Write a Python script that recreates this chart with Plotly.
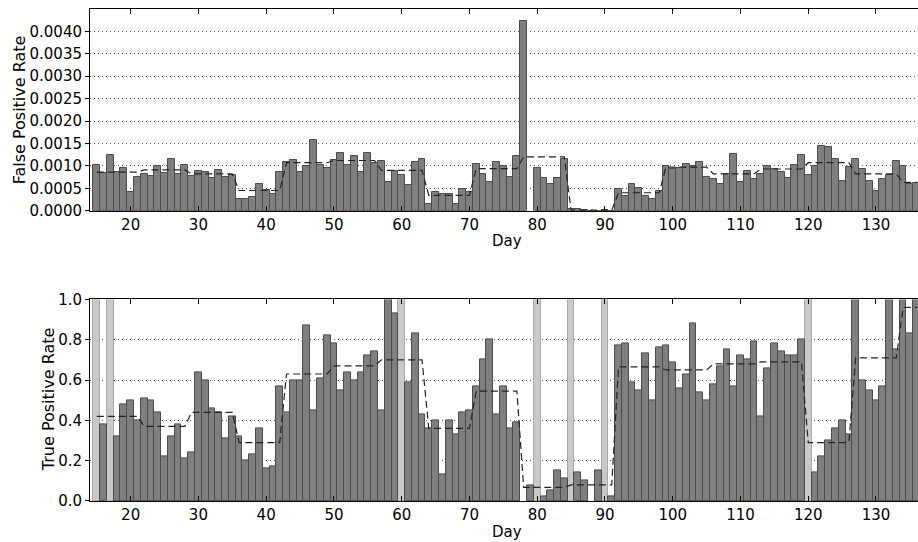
import plotly.graph_objects as go

# ---------------- data ----------------
days = list(range(15, 137))

# False positive rate, in units of 1e-4 (None = no bar)
fpr_e4 = [
    10.2, 8.5, 12.4, 8.7, 9.6, 4.2, 7.5,          # 15-21
    8.1, 7.8, 9.9, 8.5, 11.6, 8.1, 10.2,          # 22-28
    7.8, 8.9, 8.6, 7.3, 9.1, 7.5, 8.0,            # 29-35
    2.6, 2.6, 3.1, 6.0, 4.6, 3.7, 8.6,            # 36-42
    10.8, 11.3, 8.6, 9.9, 15.7, 10.3, 9.6,        # 43-49
    11.3, 12.8, 10.3, 12.2, 8.6, 12.8, 10.6,      # 50-56
    11.0, 6.3, 8.8, 8.0, 5.7, 10.8, 11.5,         # 57-63
    1.5, 4.1, 3.7, 3.7, 1.6, 4.8, 4.1,            # 64-70
    10.5, 8.2, 6.3, 10.9, 9.9, 7.5, 12.2,         # 71-77
    42.4, None, 9.5, 7.2, 6.0, 7.2, 11.5,         # 78-84
    0.4, 0.4, 0.1, 0.0, 0.0, 0.05, 0.0,           # 85-91
    4.9, 3.3, 6.0, 5.0, 3.2, 2.6, 4.3,            # 92-98
    9.9, 9.3, 9.5, 10.4, 9.9, 10.8, 7.6,          # 99-105
    7.1, 6.0, 8.1, 12.6, 6.5, 8.8, 7.0,           # 106-112
    8.2, 9.9, 9.4, 8.7, 7.2, 10.1, 12.4,          # 113-119
    8.0, 9.9, 14.4, 14.3, 11.5, 6.6, 9.8,         # 120-126
    11.5, 9.3, 6.6, 4.3, 7.1, 8.0, 11.0,          # 127-133
    10.0, 6.0, 6.1,                               # 134-136
]

# True positive rate (None = no bar)
tpr = [
    None, 0.38, None, 0.32, 0.48, 0.50, 0.40,     # 15-21
    0.51, 0.50, 0.44, 0.22, 0.32, 0.38, 0.21,     # 22-28
    0.24, 0.64, 0.60, 0.46, 0.44, 0.31, 0.42,     # 29-35
    0.32, 0.20, 0.23, 0.36, 0.16, 0.17, 0.57,     # 36-42
    0.44, 0.60, 0.60, 0.87, 0.45, 0.61, 0.82,     # 43-49
    0.78, 0.55, 0.64, 0.60, 0.64, 0.72, 0.74,     # 50-56
    0.45, 1.00, 0.93, None, 0.59, 0.83, 0.43,     # 57-63
    0.36, 0.40, 0.13, 0.40, 0.33, 0.44, 0.45,     # 64-70
    0.57, 0.70, 0.80, 0.43, 0.57, 0.36, 0.39,     # 71-77
    None, 0.076, None, 0.025, 0.055, 0.15, 0.11,  # 78-84
    None, 0.14, 0.10, None, 0.15, None, 0.023,    # 85-91
    0.77, 0.78, 0.59, 0.55, 0.73, 0.50, 0.76,     # 92-98
    0.77, 0.69, 0.56, 0.63, 0.88, 0.54, 0.50,     # 99-105
    0.58, 0.67, 0.75, 0.57, 0.72, 0.70, 0.79,     # 106-112
    0.42, 0.66, 0.78, 0.74, 0.72, 0.72, 0.80,     # 113-119
    None, 0.14, 0.22, 0.30, 0.36, 0.40, 0.33,     # 120-126
    1.00, 0.60, 0.55, 0.50, 0.57, 1.00, 0.75,     # 127-133
    1.00, 0.83, 1.00,                             # 134-136
]

# days without positives (drawn as light full-height bars)
no_positive_days = [15, 17, 60, 80, 85, 90, 120]

# weekly averages (dashed lines)
week_starts = [15, 22, 29, 36, 43, 50, 57, 64, 71, 78, 85, 92, 99, 106, 113, 120, 127, 134]
fpr_week_e4 = [8.6, 9.1, 8.2, 4.5, 10.7, 11.2, 9.0, 3.4, 9.4, 12.0, 0.1, 4.0, 9.7, 8.2, 9.3, 10.7, 8.2, 6.3]
tpr_week = [0.42, 0.37, 0.44, 0.29, 0.63, 0.67, 0.70, 0.36, 0.545, 0.068, 0.08, 0.665, 0.65, 0.68, 0.69, 0.29, 0.71, 0.96]

fpr_ticks = [0.0, 0.0005, 0.0010, 0.0015, 0.0020, 0.0025, 0.0030, 0.0035, 0.0040]
tpr_ticks = [0.0, 0.2, 0.4, 0.6, 0.8, 1.0]
day_ticks = [20, 30, 40, 50, 60, 70, 80, 90, 100, 110, 120, 130]

# ---------------- derived series ----------------
fpr = [None if v is None else v * 1e-4 for v in fpr_e4]


def week_level(levels, d):
    idx = 0
    for i, s in enumerate(week_starts):
        if d >= s:
            idx = i
    return levels[idx]


fpr_line = [week_level(fpr_week_e4, d) * 1e-4 for d in days]
tpr_line = [week_level(tpr_week, d) for d in days]

# ---------------- figure ----------------
FONT = "DejaVu Sans"
DARK = "#7f7f7f"
DARK_EDGE = "#4c4c4c"
LIGHT = "#c9c9c9"
LIGHT_EDGE = "#a8a8a8"

fig = go.Figure()

fig.add_trace(go.Bar(x=days, y=fpr, width=1.0, xaxis="x", yaxis="y",
                     marker=dict(color=DARK, line=dict(color=DARK_EDGE, width=1)),
                     showlegend=False))
fig.add_trace(go.Scatter(x=days, y=fpr_line, mode="lines", xaxis="x", yaxis="y",
                         line=dict(color="#222222", width=1.2, dash="7px,4px"),
                         showlegend=False))

fig.add_trace(go.Bar(x=no_positive_days, y=[1.0] * len(no_positive_days), width=1.0,
                     xaxis="x2", yaxis="y2",
                     marker=dict(color=LIGHT, line=dict(color=LIGHT_EDGE, width=1)),
                     showlegend=False))
fig.add_trace(go.Bar(x=days, y=tpr, width=1.0, xaxis="x2", yaxis="y2",
                     marker=dict(color=DARK, line=dict(color=DARK_EDGE, width=1)),
                     showlegend=False))
fig.add_trace(go.Scatter(x=days, y=tpr_line, mode="lines", xaxis="x2", yaxis="y2",
                         line=dict(color="#222222", width=1.2, dash="7px,4px"),
                         showlegend=False))

xcommon = dict(range=[14, 136.2], showline=True, linecolor="black", linewidth=1,
               mirror="ticks", ticks="inside", ticklen=5, tickcolor="black",
               tickvals=day_ticks, showgrid=False, zeroline=False,
               tickfont=dict(family=FONT, size=15, color="black"))
ycommon = dict(showline=True, linecolor="black", linewidth=1, mirror=False,
               ticks="outside", ticklen=4, tickcolor="black",
               showgrid=True, gridcolor="#555555", gridwidth=1, griddash="1px,3px",
               zeroline=False, tickfont=dict(family=FONT, size=15, color="black"))

fig.update_layout(
    width=918, height=542,
    margin=dict(l=90, r=0, t=9, b=41),
    plot_bgcolor="white", paper_bgcolor="white",
    barmode="overlay", bargap=0,
    font=dict(family=FONT, size=14, color="black"),
    xaxis=dict(domain=[0, 1], anchor="y", **xcommon),
    yaxis=dict(domain=[0.5901, 1.0], anchor="x", range=[0, 0.0045],
               tickvals=fpr_ticks, tickformat=".4f", **ycommon),
    xaxis2=dict(domain=[0, 1], anchor="y2", **xcommon),
    yaxis2=dict(domain=[0.0, 0.4098], anchor="x2", range=[0, 1.0],
                tickvals=tpr_ticks, tickformat=".1f", **ycommon),
)

ann = dict(xref="paper", yref="paper", showarrow=False,
           xanchor="center", yanchor="middle")
fig.add_annotation(text="Day", x=(507 - 90) / 828, y=(500.7 - 241.5) / 491.4,
                   font=dict(family=FONT, size=15, color="black"), **ann)
fig.add_annotation(text="Day", x=(507 - 90) / 828, y=(500.7 - 532) / 491.4,
                   font=dict(family=FONT, size=15, color="black"), **ann)
fig.add_annotation(text="False Positive Rate", textangle=-90,
                   x=(19.5 - 90) / 828, y=(500.7 - 110) / 491.4,
                   font=dict(family=FONT, size=16, color="black"), **ann)
fig.add_annotation(text="True Positive Rate", textangle=-90,
                   x=(48 - 90) / 828, y=(500.7 - 399) / 491.4,
                   font=dict(family=FONT, size=16, color="black"), **ann)

fig.write_html("out.html")
